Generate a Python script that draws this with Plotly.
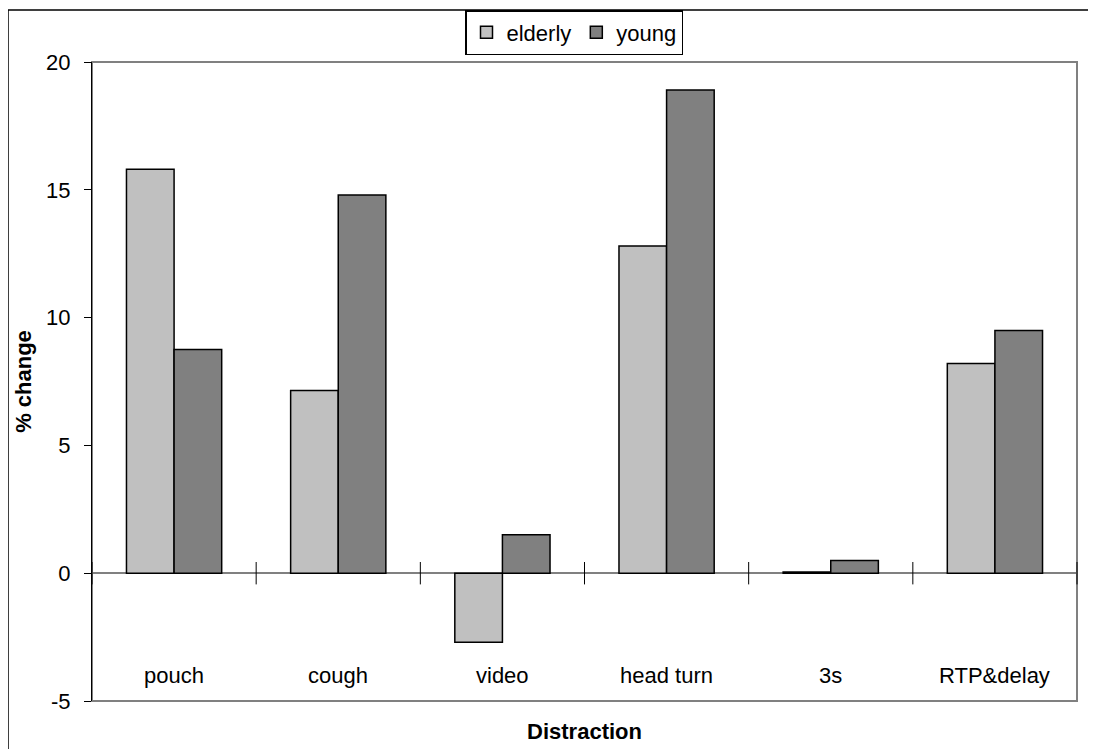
import plotly.graph_objects as go

# Data
categories = ["pouch", "cough", "video", "head turn", "3s", "RTP&delay"]
elderly = [15.8, 7.15, -2.7, 12.8, 0.05, 8.2]
young = [8.75, 14.8, 1.5, 18.9, 0.5, 9.5]
y_ticks = [-5, 0, 5, 10, 15, 20]

x_pos = list(range(len(categories)))
boundaries = [i - 0.5 for i in range(len(categories) + 1)]

FONT = "Liberation Sans, Arial, sans-serif"

fig = go.Figure()

fig.add_trace(go.Bar(
    x=x_pos, y=elderly, name="elderly",
    marker=dict(color="#C0C0C0", line=dict(color="black", width=1.5)),
))
fig.add_trace(go.Bar(
    x=x_pos, y=young, name="young",
    marker=dict(color="#808080", line=dict(color="black", width=1.5)),
))

# category tick marks sitting on the zero line (Excel style)
fig.add_trace(go.Scatter(
    x=boundaries, y=[0] * len(boundaries),
    mode="markers", showlegend=False, hoverinfo="skip", cliponaxis=False,
    marker=dict(symbol="line-ns", size=16, line=dict(color="black", width=1)),
))

# category labels sit low in the plot area, like Excel's "low" label position
for xi, name in zip(x_pos, categories):
    fig.add_annotation(x=xi, y=-4, xref="x", yref="y", text=name,
                       showarrow=False, yanchor="middle", font=dict(size=22))

# page body adds an 8px offset, so the figure is 8px smaller than the window
W, H = 1088, 741
fig.update_layout(
    width=W, height=H,
    margin=dict(l=84, r=19, t=54, b=48, autoexpand=False),
    paper_bgcolor="white", plot_bgcolor="white",
    font=dict(family=FONT, size=22, color="black"),
    barmode="group", bargap=0.42, bargroupgap=0,
    showlegend=True,
    legend=dict(
        orientation="h", xref="container", yref="container",
        x=457 / W, xanchor="left", y=1 - 2 / H, yanchor="top",
        bgcolor="white", bordercolor="black", borderwidth=1.5,
        font=dict(size=22), tracegroupgap=0,
    ),
    xaxis=dict(
        range=[-0.5, 5.5], tickvals=x_pos, showticklabels=False,
        showgrid=False, zeroline=False, showline=False, ticks="",
        automargin=False,
        title=dict(text="<b>Distraction</b>", standoff=22, font=dict(size=22)),
    ),
    yaxis=dict(
        range=[-5, 20], tickvals=y_ticks, ticktext=[str(v) for v in y_ticks],
        showgrid=False,
        zeroline=True, zerolinecolor="#808080", zerolinewidth=1.5,
        showline=True, linecolor="black", linewidth=1,
        ticks="outside", ticklen=7, tickcolor="black", tickwidth=1,
        ticklabelstandoff=9, automargin=False,
        title=dict(text="<b>% change</b>", standoff=8, font=dict(size=22)),
    ),
    shapes=[
        # plot area border
        dict(type="rect", xref="paper", yref="paper", x0=0, x1=1, y0=0, y1=1,
             line=dict(color="#808080", width=2), layer="below"),
        # outer chart border
        dict(type="rect", xref="paper", yref="paper",
             x0=-84 / 985, x1=1.2, y0=-0.3, y1=(693 - 2) / 639,
             line=dict(color="black", width=1.5), layer="below"),
    ],
)

fig.write_html("out.html")
